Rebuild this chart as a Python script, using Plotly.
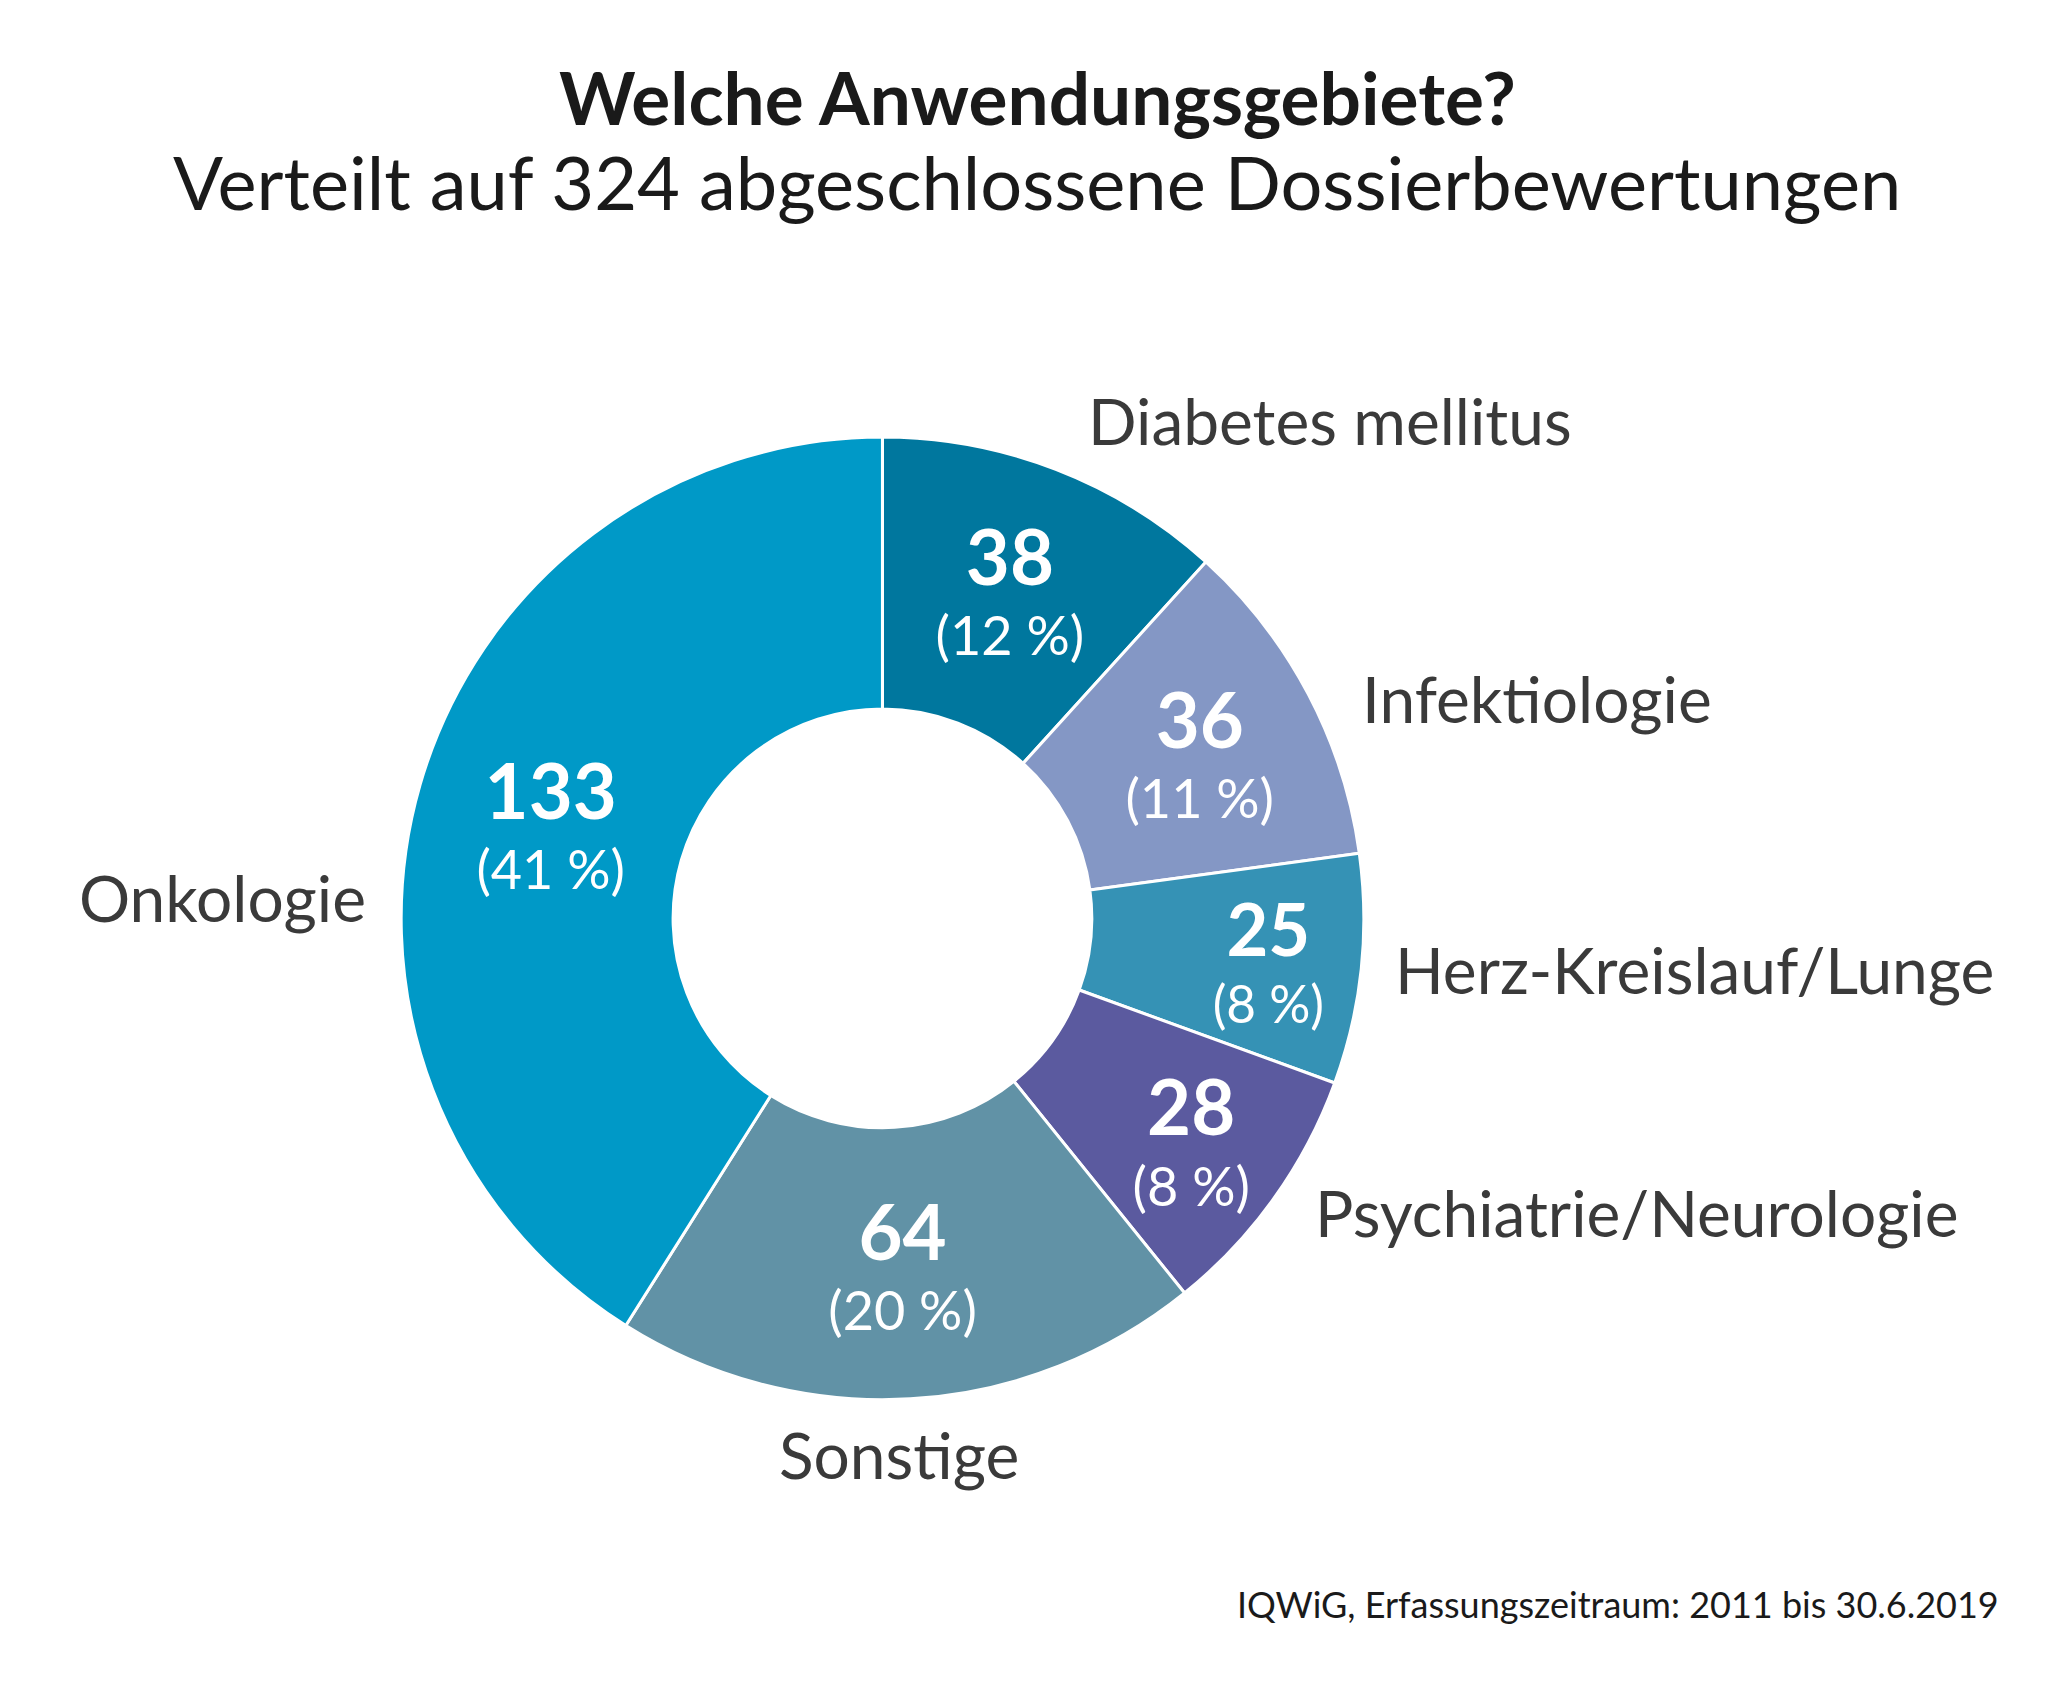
import plotly.graph_objects as go

# Data
categories = ["Diabetes mellitus", "Infektiologie", "Herz-Kreislauf/Lunge",
              "Psychiatrie/Neurologie", "Sonstige", "Onkologie"]
counts = [38, 36, 25, 28, 64, 133]
percent_labels = ["12 %", "11 %", "8 %", "8 %", "20 %", "41 %"]
colors = ["#00779e", "#8497c5", "#3592b5", "#5b5a9f", "#6192a6", "#0099c7"]

title_text = "Welche Anwendungsgebiete?"
subtitle_text = "Verteilt auf 324 abgeschlossene Dossierbewertungen"
source_text = "IQWiG, Erfassungszeitraum: 2011 bis 30.6.2019"

W, H = 2058, 1684
FONT = "Lato"

fig = go.Figure()
fig.add_trace(go.Pie(
    labels=categories,
    values=counts,
    customdata=[[c, p] for c, p in zip(counts, percent_labels)],
    texttemplate="<span style='font-size:76px'><b>%{customdata[0]}</b></span><br>(%{customdata[1]})",
    textposition="inside",
    insidetextorientation="horizontal",
    textfont=dict(family=FONT, size=54, color="white"),
    hole=0.435,
    sort=False,
    direction="clockwise",
    rotation=0,
    marker=dict(colors=colors, line=dict(color="white", width=3)),
    domain=dict(x=[0.1910, 0.6588], y=[0.1736, 0.7452]),
    showlegend=False,
    hoverinfo="label+value",
))

label_pos = {
    "Diabetes mellitus": (0.524, 0.755, "left"),
    "Infektiologie": (0.657, 0.590, "left"),
    "Herz-Kreislauf/Lunge": (0.673, 0.429, "left"),
    "Psychiatrie/Neurologie": (0.634, 0.285, "left"),
    "Sonstige": (0.433, 0.141, "center"),
    "Onkologie": (0.175, 0.472, "right"),
}

annotations = []
for cat in categories:
    x, y, anc = label_pos[cat]
    annotations.append(dict(text=cat, x=x, y=y, xref="paper", yref="paper",
                            xanchor=anc, yanchor="middle", showarrow=False,
                            font=dict(family=FONT, size=64, color="#3a3a3a")))

annotations.append(dict(text="<b>" + title_text + "</b>", x=0.5, y=0.9473,
                        xref="paper", yref="paper", xanchor="center", yanchor="middle",
                        showarrow=False, font=dict(family=FONT, size=73, color="#1a1a1a")))
annotations.append(dict(text=subtitle_text, x=0.5, y=0.8967,
                        xref="paper", yref="paper", xanchor="center", yanchor="middle",
                        showarrow=False, font=dict(family=FONT, size=74, color="#1a1a1a")))
annotations.append(dict(text=source_text, x=0.9684, y=0.0522,
                        xref="paper", yref="paper", xanchor="right", yanchor="middle",
                        showarrow=False, font=dict(family=FONT, size=36, color="#1a1a1a")))

fig.update_layout(
    width=W, height=H,
    margin=dict(l=0, r=0, t=0, b=0),
    paper_bgcolor="white", plot_bgcolor="white",
    annotations=annotations,
)

fig.write_html("out.html")
